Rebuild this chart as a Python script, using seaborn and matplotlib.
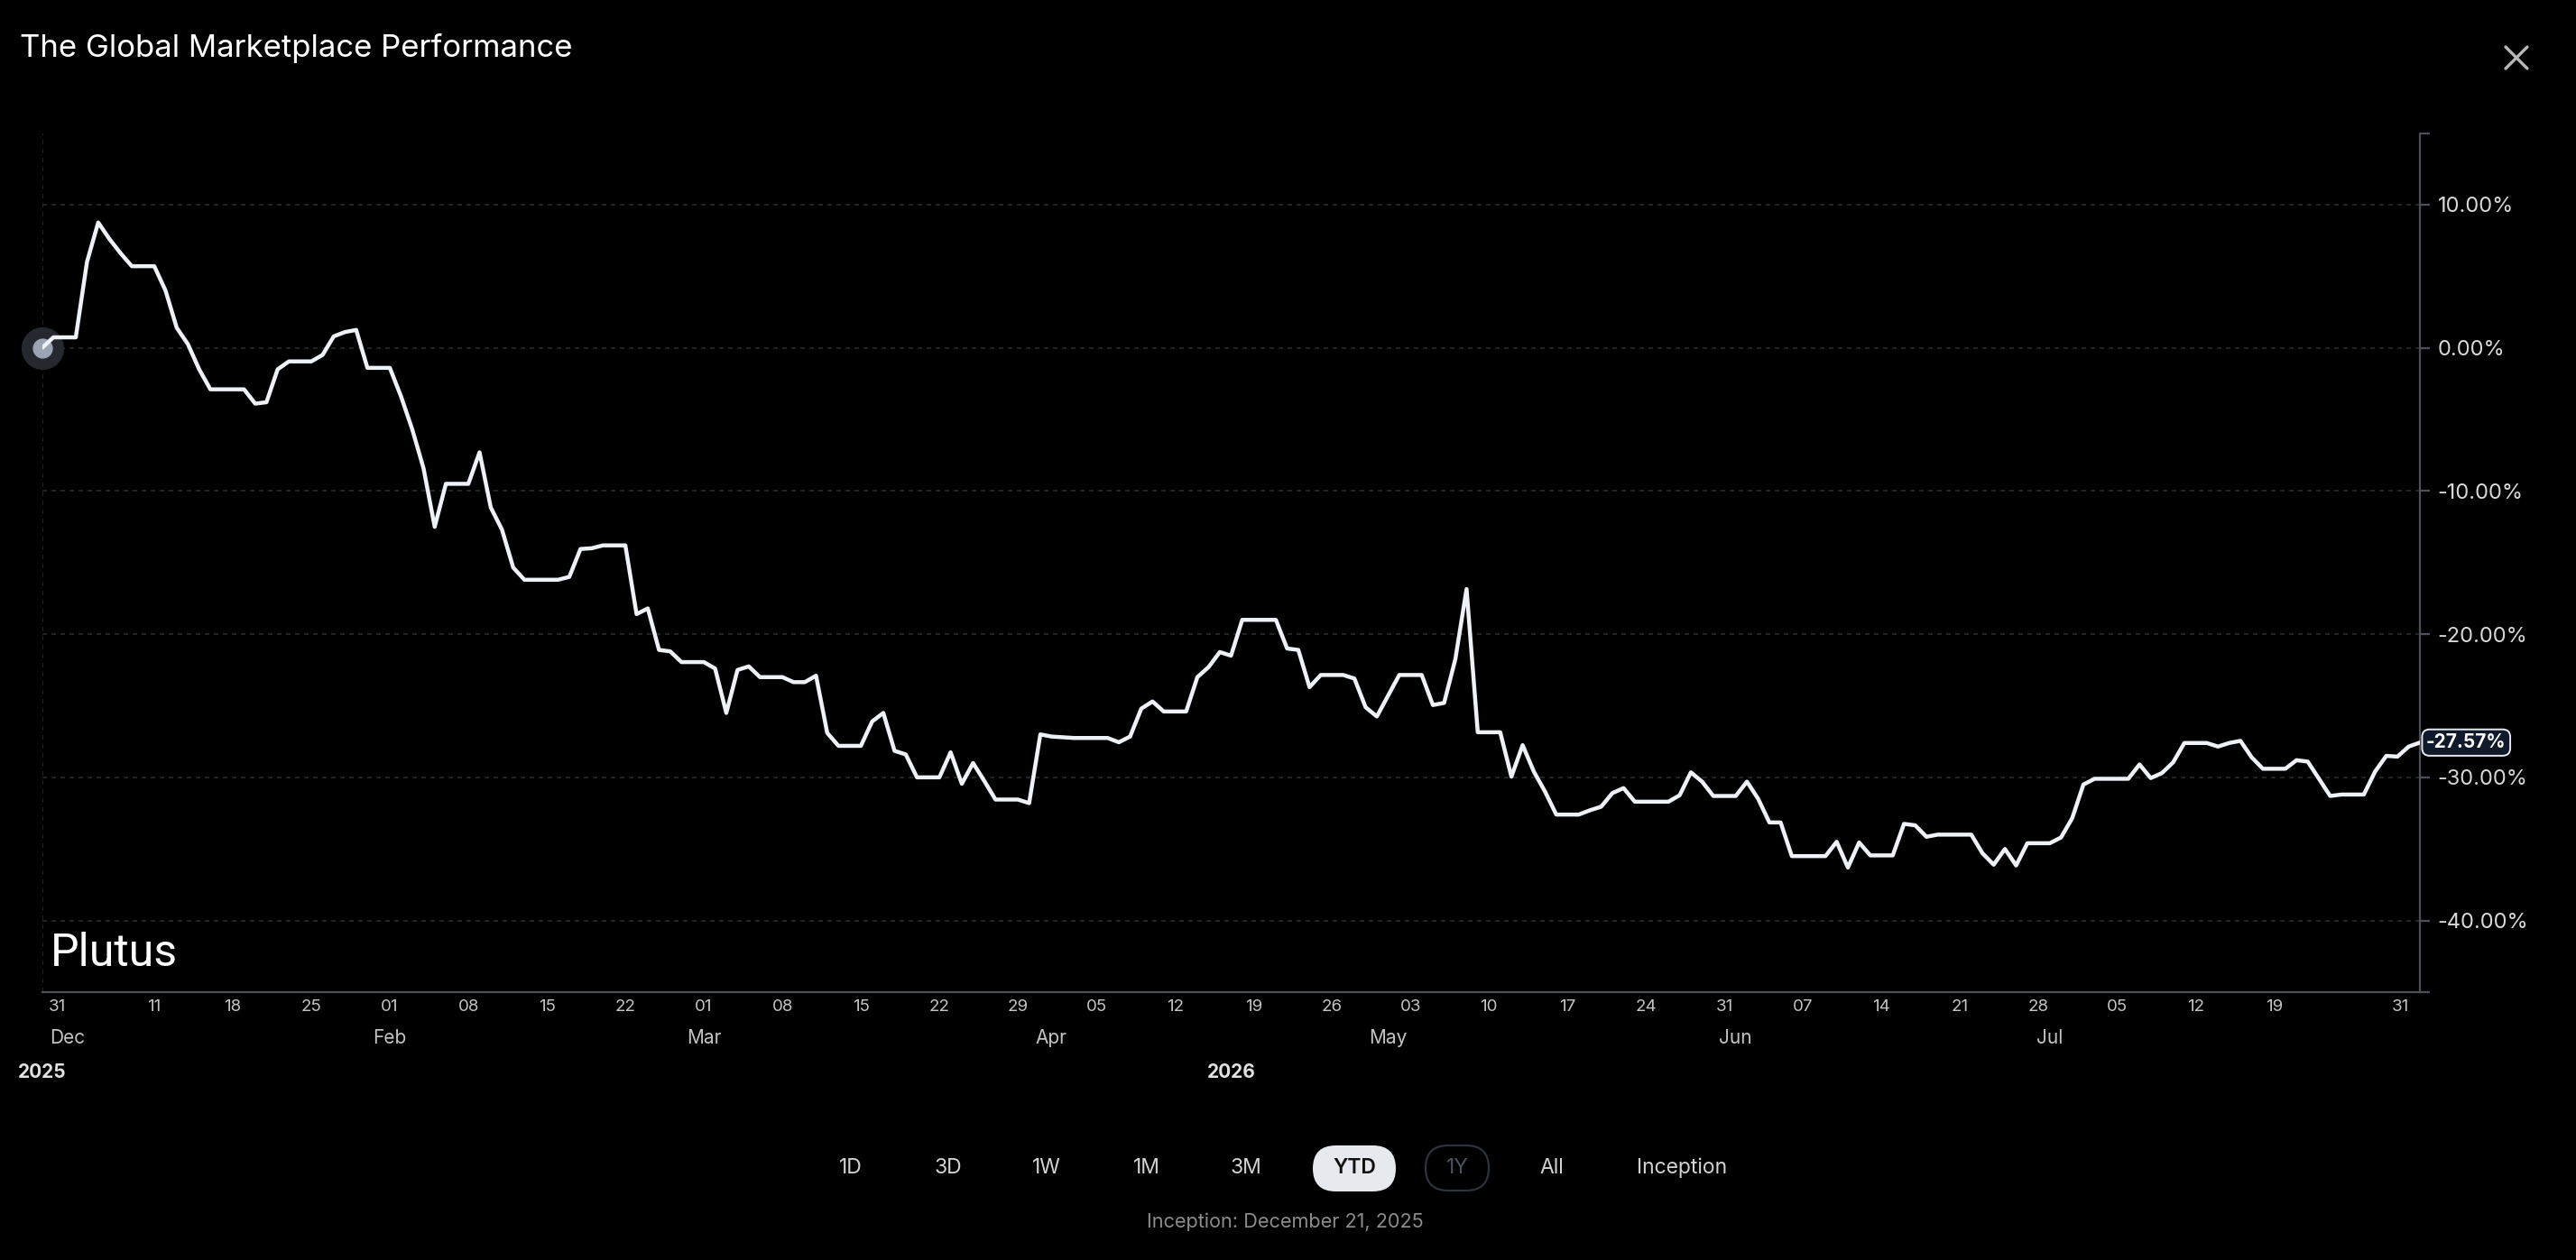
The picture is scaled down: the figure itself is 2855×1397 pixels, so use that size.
import numpy as np
import pandas as pd
import matplotlib
matplotlib.use("Agg")
import matplotlib.pyplot as plt
import matplotlib.transforms as mtransforms
from matplotlib.lines import Line2D
from matplotlib.patches import FancyBboxPatch
import seaborn as sns

# daily YTD return (%)
values = [
    0.0, 0.73, 0.73, 0.73, 6.0, 8.75, 7.6, 6.6, 5.7, 5.7,
    5.7, 4.0, 1.4, 0.25, -1.5, -2.9, -2.9, -2.9, -2.9, -3.9,
    -3.8, -1.5, -0.95, -0.95, -0.95, -0.5, 0.8, 1.1, 1.25, -1.4,
    -1.4, -1.4, -3.4, -5.7, -8.4, -12.5, -9.5, -9.5, -9.5, -7.3,
    -11.15, -12.7, -15.35, -16.2, -16.2, -16.2, -16.2, -16.0, -14.05, -14.0,
    -13.8, -13.8, -13.8, -18.6, -18.2, -21.1, -21.2, -21.95, -21.95, -21.95,
    -22.4, -25.5, -22.5, -22.25, -23.0, -23.0, -23.0, -23.35, -23.35, -22.9,
    -26.9, -27.8, -27.8, -27.8, -26.1, -25.5, -28.15, -28.4, -30.0, -30.0,
    -30.0, -28.25, -30.45, -29.0, -30.25, -31.55, -31.55, -31.55, -31.8, -27.0,
    -27.15, -27.2, -27.25, -27.25, -27.25, -27.25, -27.55, -27.15, -25.2, -24.7,
    -25.4, -25.4, -25.4, -23.0, -22.3, -21.25, -21.5, -19.0, -19.0, -19.0,
    -19.0, -21.0, -21.1, -23.7, -22.85, -22.85, -22.85, -23.1, -25.1, -25.75,
    -24.3, -22.85, -22.85, -22.85, -24.95, -24.8, -21.75, -16.85, -26.85, -26.85,
    -26.85, -29.95, -27.75, -29.6, -31.0, -32.6, -32.6, -32.6, -32.3, -32.05,
    -31.1, -30.75, -31.7, -31.7, -31.7, -31.7, -31.25, -29.65, -30.3, -31.3,
    -31.3, -31.3, -30.3, -31.5, -33.15, -33.15, -35.5, -35.5, -35.5, -35.5,
    -34.5, -36.3, -34.55, -35.45, -35.45, -35.45, -33.25, -33.35, -34.15, -34.0,
    -34.0, -34.0, -34.0, -35.3, -36.1, -35.0, -36.15, -34.6, -34.6, -34.6,
    -34.2, -32.85, -30.5, -30.1, -30.1, -30.1, -30.1, -29.1, -30.05, -29.7,
    -28.95, -27.6, -27.6, -27.6, -27.85, -27.6, -27.45, -28.6, -29.4, -29.4,
    -29.4, -28.8, -28.9, -30.1, -31.3, -31.2, -31.2, -31.2, -29.6, -28.5,
    -28.55, -27.85, -27.57,
]

# one bar per session (no bar on Jan 1)
dates = pd.DatetimeIndex(["2025-12-31"]).append(pd.date_range("2026-01-02", "2026-08-01"))

tick_dates = pd.to_datetime([
    "2025-12-31", "2026-01-11", "2026-01-18", "2026-01-25", "2026-02-01",
    "2026-02-08", "2026-02-15", "2026-02-22", "2026-03-01", "2026-03-08",
    "2026-03-15", "2026-03-22", "2026-03-29", "2026-04-05", "2026-04-12",
    "2026-04-19", "2026-04-26", "2026-05-03", "2026-05-10", "2026-05-17",
    "2026-05-24", "2026-05-31", "2026-06-07", "2026-06-14", "2026-06-21",
    "2026-06-28", "2026-07-05", "2026-07-12", "2026-07-19", "2026-07-31",
])
month_labels = ["Dec", "Feb", "Mar", "Apr", "May", "Jun", "Jul"]
month_dates = pd.to_datetime([
    "2025-12-31", "2026-02-01", "2026-03-01", "2026-04-01",
    "2026-05-01", "2026-06-01", "2026-06-29",
])
year_labels = ["2025", "2026"]
year_dates = pd.to_datetime(["2025-12-31", "2026-04-17"])
y_ticks = [-40, -30, -20, -10, 0, 10]

ranges = ["1D", "3D", "1W", "1M", "3M", "YTD", "1Y", "All", "Inception"]
range_x = [943, 1051, 1160, 1271, 1381, 1501, 1615, 1720, 1864]  # px centres
active_range = "YTD"
disabled_range = "1Y"

title = "The Global Marketplace Performance"
inception_note = "Inception: December 21, 2025"

df = pd.DataFrame({"date": dates, "ret": values})
df["bar"] = np.arange(len(df))

W, H = 2855, 1397
sns.set_theme(style="dark", rc={
    "figure.facecolor": "black",
    "axes.facecolor": "black",
    "savefig.facecolor": "black",
})
plt.rcParams["font.family"] = ["Inter", "DejaVu Sans"]

fig = plt.figure(figsize=(W / 100, H / 100), dpi=100)
ax = fig.add_axes([46.7 / W, 1 - 1100 / H, (2682 - 46.7) / W, (1100 - 147.5) / H])
ax.set_facecolor("black")

grid_kw = dict(color="#2b2b2d", lw=1.2, linestyle=(0, (3, 3)), zorder=1)
for yv in y_ticks:
    ax.axhline(yv, **grid_kw)
ax.axvline(0, **grid_kw)

# start marker
ax.plot(0, values[0], "o", ms=33, color="#25282e", zorder=3, clip_on=False)
ax.plot(0, values[0], "o", ms=15, color="#9ca4b4", zorder=4, clip_on=False)

sns.lineplot(data=df, x="bar", y="ret", ax=ax, color="#eef1f5", lw=3.2, zorder=5)

ax.set_xlim(0, len(df) - 1)
ax.set_ylim(-45, 15)
ax.grid(False)
ax.set_xlabel("")
ax.set_ylabel("")

for side in ["top", "left"]:
    ax.spines[side].set_visible(False)
for side in ["right", "bottom"]:
    ax.spines[side].set_visible(True)
    ax.spines[side].set_color("#4b505a")
    ax.spines[side].set_linewidth(1.6)

# y axis on the right
ax.yaxis.tick_right()
ax.set_yticks(y_ticks)
ax.set_yticklabels([f"{v:.2f}%" for v in y_ticks])
ax.set_yticks([-45, 15], minor=True)
ax.tick_params(axis="y", which="both", length=8, width=1.6, color="#4b505a",
               labelcolor="#d8d8d8", labelsize=17, pad=6, right=True, left=False)

# x axis: day numbers
tick_pos = dates.get_indexer(tick_dates).astype(float)
tick_pos[0] += 0.6
ax.set_xticks(tick_pos)
ax.set_xticklabels(tick_dates.strftime("%d"))
ax.tick_params(axis="x", length=0, pad=6, labelsize=13.5, labelcolor="#c4c4c4")
xl = ax.get_xticklabels()
xl[0].set_ha("left")
xl[-1].set_ha("right")

xdata_fig = mtransforms.blended_transform_factory(ax.transData, fig.transFigure)
for i, (lab, d) in enumerate(zip(month_labels, month_dates)):
    pos = dates.searchsorted(d)
    ax.text(pos + (0.7 if i == 0 else 0), 1 - 1151 / H, lab,
            transform=xdata_fig, ha="left" if i == 0 else "center", va="center",
            fontsize=15, color="#c4c4c4", clip_on=False)
for lab, d in zip(year_labels, year_dates):
    pos = dates.searchsorted(d)
    ax.text(pos, 1 - 1189 / H, lab, transform=xdata_fig,
            ha="center", va="center", fontsize=15, fontweight="bold",
            color="#e2e2e2", clip_on=False)

# last value badge
ax.text(1.0 + 7 / 2635, values[-1], f"{values[-1]:.2f}%",
        transform=ax.get_yaxis_transform(), ha="left", va="center",
        fontsize=15, fontweight="bold", color="white", zorder=6, clip_on=False,
        bbox=dict(boxstyle="round,pad=0.22,rounding_size=0.4", fc="#111a2b",
                  ec="#e6eaf0", lw=1.4))

# watermark
fig.text(56 / W, 1 - 1071 / H, "Plutus", fontsize=36, color="white",
         ha="left", va="baseline", family=["Roboto", "Liberation Sans"])

# title and close icon
fig.text(22 / W, 1 - 53 / H, title, fontsize=25, color="white", ha="left", va="center")
for (x0, y0, x1, y1) in [(2777, 52, 2801, 76), (2777, 76, 2801, 52)]:
    fig.add_artist(Line2D([x0 / W, x1 / W], [1 - y0 / H, 1 - y1 / H],
                          transform=fig.transFigure, color="#b8b8b8", lw=2.4))

# range selector
for name, cx in zip(ranges, range_x):
    color = "#d2d2d2"
    weight = "normal"
    if name == active_range:
        fig.add_artist(FancyBboxPatch((cx - 46, H - 1321), 92, 51,
                                      boxstyle="round,pad=0,rounding_size=25.5",
                                      transform=mtransforms.IdentityTransform(),
                                      fc="#e6e9ee", ec="none"))
        color = "#111111"
        weight = "semibold"
    elif name == disabled_range:
        fig.add_artist(FancyBboxPatch((cx - 35, H - 1320), 70, 50,
                                      boxstyle="round,pad=0,rounding_size=25",
                                      transform=mtransforms.IdentityTransform(),
                                      fc="black", ec="#2c323e", lw=1.6))
        color = "#4c5262"
    fig.text(cx / W, 1 - 1295 / H, name, fontsize=16.5, color=color,
             fontweight=weight, ha="center", va="center")

fig.text(1424 / W, 1 - 1355 / H, inception_note, fontsize=15.6, color="#8c8c8c",
         ha="center", va="center")

fig.savefig("out.png", dpi=100, facecolor="black")
